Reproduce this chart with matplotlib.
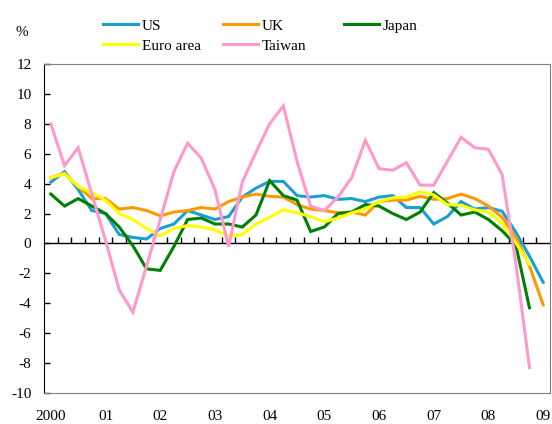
import matplotlib
matplotlib.use("Agg")
import matplotlib.pyplot as plt
import numpy as np

plt.rcParams['font.family'] = ['Liberation Serif', 'DejaVu Serif']
plt.rcParams['axes.unicode_minus'] = False

# quarterly, 2000Q1 .. 2009Q1 (year-on-year %)
quarters = [f"{y}Q{q}" for y in range(2000, 2010) for q in range(1, 5)][:37]
year_labels = ["2000", "01", "02", "03", "04", "05", "06", "07", "08", "09"]

us = [4.1, 4.8, 3.6, 2.2, 2.0, 0.6, 0.4, 0.3, 1.0, 1.3, 2.2, 1.9, 1.6, 1.8,
      3.1, 3.7, 4.15, 4.15, 3.2, 3.1, 3.2, 2.95, 3.0, 2.8, 3.1, 3.2, 2.4, 2.4,
      1.3, 1.8, 2.8, 2.3, 2.4, 2.15, 0.75, -0.85, -2.6]
uk = [4.4, 4.7, 3.8, 3.0, 3.0, 2.3, 2.4, 2.2, 1.85, 2.1, 2.2, 2.4, 2.3, 2.8,
      3.1, 3.3, 3.15, 3.1, 2.6, 2.3, 2.2, 2.05, 2.1, 1.9, 2.8, 2.9, 2.9, 3.15,
      2.95, 3.0, 3.3, 3.0, 2.5, 1.75, 0.4, -1.5, -4.1]
japan = [3.3, 2.5, 3.0, 2.5, 2.0, 1.1, -0.15, -1.7, -1.8, -0.2, 1.6, 1.7, 1.3, 1.3,
         1.1, 1.9, 4.2, 3.2, 2.9, 0.8, 1.1, 2.0, 2.1, 2.6, 2.5, 2.0, 1.6, 2.1,
         3.4, 2.7, 1.9, 2.1, 1.6, 0.85, -0.1, -4.3]
euro = [4.4, 4.65, 3.8, 3.4, 2.9, 2.0, 1.6, 1.0, 0.5, 1.0, 1.2, 1.1, 0.9, 0.5,
        0.6, 1.3, 1.75, 2.25, 2.05, 1.8, 1.45, 1.7, 2.05, 2.3, 2.8, 3.05, 3.1, 3.45,
        3.25, 2.6, 2.55, 2.25, 2.1, 1.35, 0.05, -1.4]
taiwan = [8.0, 5.2, 6.4, 3.3, 0.2, -3.1, -4.6, -1.5, 1.6, 4.8, 6.7, 5.7, 3.6, -0.2,
          4.1, 6.1, 8.0, 9.2, 5.5, 2.5, 2.2, 3.1, 4.4, 6.9, 5.0, 4.9, 5.4, 3.9,
          3.9, 5.5, 7.1, 6.4, 6.3, 4.6, -1.3, -8.3]

colors = {"US": "#1a9fd2", "UK": "#ff9900", "Japan": "#008000",
          "Euro area": "#ffff00", "Taiwan": "#ff99cc"}

fig = plt.figure(figsize=(5.52, 4.24), dpi=100)
ax = fig.add_axes([44/552, 1-393/424, (550-44)/552, (393-64)/424])

lines = {}
for name, vals in [("US", us), ("UK", uk), ("Japan", japan),
                   ("Euro area", euro), ("Taiwan", taiwan)]:
    x = np.arange(len(vals))
    lines[name], = ax.plot(x, vals, color=colors[name], lw=2.2,
                           solid_joinstyle="miter", label=name)

ax.set_xlim(-0.5, len(quarters) - 0.5)
ax.set_ylim(-10, 12)
ax.set_yticks(np.arange(-10, 13, 2))
ax.tick_params(axis="y", direction="in", length=4, width=1, pad=9, labelsize=11)
ax.set_xticks(np.arange(0, len(quarters), 4))
ax.set_xticklabels(year_labels)
ax.tick_params(axis="x", length=0, pad=12.5, labelsize=11)
for s in ["top", "right", "bottom"]:
    ax.spines[s].set_color("#808080")
ax.spines["left"].set_color("black")

# zero line with quarter ticks
zero = ax.secondary_xaxis(10/22)
zero.set_xticks(np.arange(0.5, len(quarters) - 1, 1))
zero.set_xticklabels([])
zero.tick_params(direction="in", length=4, width=1, color="black")
zero.spines["bottom"].set_color("black")
zero.spines["bottom"].set_linewidth(1)

fig.text(15/552, 1-32/424, "%", fontsize=11, va="center")

kw = dict(loc="upper left", frameon=False, fontsize=11, handlelength=2.3,
          handletextpad=0.25, labelspacing=0.4, borderpad=0, borderaxespad=0)
fig.legend([lines["US"], lines["Euro area"]], ["US", "Euro area"],
           bbox_to_anchor=(103/552, 1-19/424), **kw)
fig.legend([lines["UK"], lines["Taiwan"]], ["UK", "Taiwan"],
           bbox_to_anchor=(223/552, 1-19/424), **kw)
fig.legend([lines["Japan"]], ["Japan"],
           bbox_to_anchor=(344/552, 1-19/424), **kw)

fig.savefig("out.png", dpi=100)
